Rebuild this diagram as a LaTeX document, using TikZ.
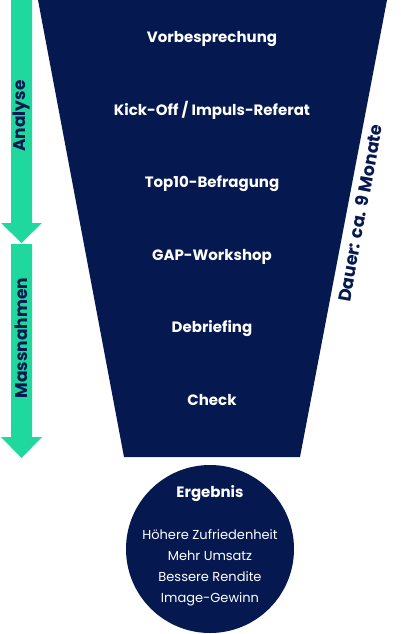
\documentclass[tikz,border=0pt]{standalone}
\usepackage{fontspec}
\setmainfont{Poppins}
\usetikzlibrary{positioning}
\definecolor{navy}{HTML}{051850}
\definecolor{mint}{HTML}{1ED89E}
\tikzset{
  % A step inside the funnel
  stage/.style={text=white, font=\bfseries\fontsize{15}{17}\selectfont,
    inner sep=0pt, anchor=base},
  % Phase label on the green arrows
  phase/.style={text=navy, font=\bfseries\fontsize{17}{19}\selectfont,
    inner sep=0pt, rotate=90},
  % Lines in the result circle
  result/.style={text=white, font=\fontsize{13}{15}\selectfont,
    inner sep=0pt, anchor=base},
  resulthead/.style={result, font=\bfseries\fontsize{15}{17}\selectfont},
}

\begin{document}
\begin{tikzpicture}[x=1pt, y=-1pt]
\useasboundingbox (0,0) rectangle (400,634);

% funnel
\fill[navy] (38,0) -- (387,0) -- (300,457) -- (124,457) -- cycle;

% phase arrows
\fill[mint] (11,0) -- (32,0) -- (32,223) -- (42,223) -- (21.5,243)
  -- (1,223) -- (11,223) -- cycle;
\fill[mint] (11,244) -- (32,244) -- (32,437) -- (42,437) -- (21.5,458)
  -- (1,437) -- (11,437) -- cycle;
\node[phase] (analyse) at (21.5,116) {Analyse};
\node[phase] (massn) at (21.5,338) {Massnahmen};

% steps
\node[stage] (vorb) at (212,42.5) {Vorbesprechung};
\node[stage] (kick) at (212,115) {Kick-Off / Impuls-Referat};
\node[stage] (top) at (212,187.5) {Top10-Befragung};
\node[stage] (gap) at (212,260) {GAP-Workshop};
\node[stage] (debr) at (212,332.5) {Debriefing};
\node[stage] (check) at (212,405) {Check};

% duration
\node[text=navy, font=\bfseries\fontsize{17.5}{19}\selectfont, inner sep=0pt,
  rotate=79.6] (dauer) at (360,213) {Dauer: ca. 9 Monate};

% result
\node[circle, fill=navy, minimum size=168pt, inner sep=0pt] (erg) at (210,549) {};
\node[resulthead] (ergt) at (210,497) {Ergebnis};
\node[result] (r1) at (210,539) {Höhere Zufriedenheit};
\node[result] (r2) at (210,560) {Mehr Umsatz};
\node[result] (r3) at (210,581) {Bessere Rendite};
\node[result] (r4) at (210,602) {Image-Gewinn};

\end{tikzpicture}
\end{document}
